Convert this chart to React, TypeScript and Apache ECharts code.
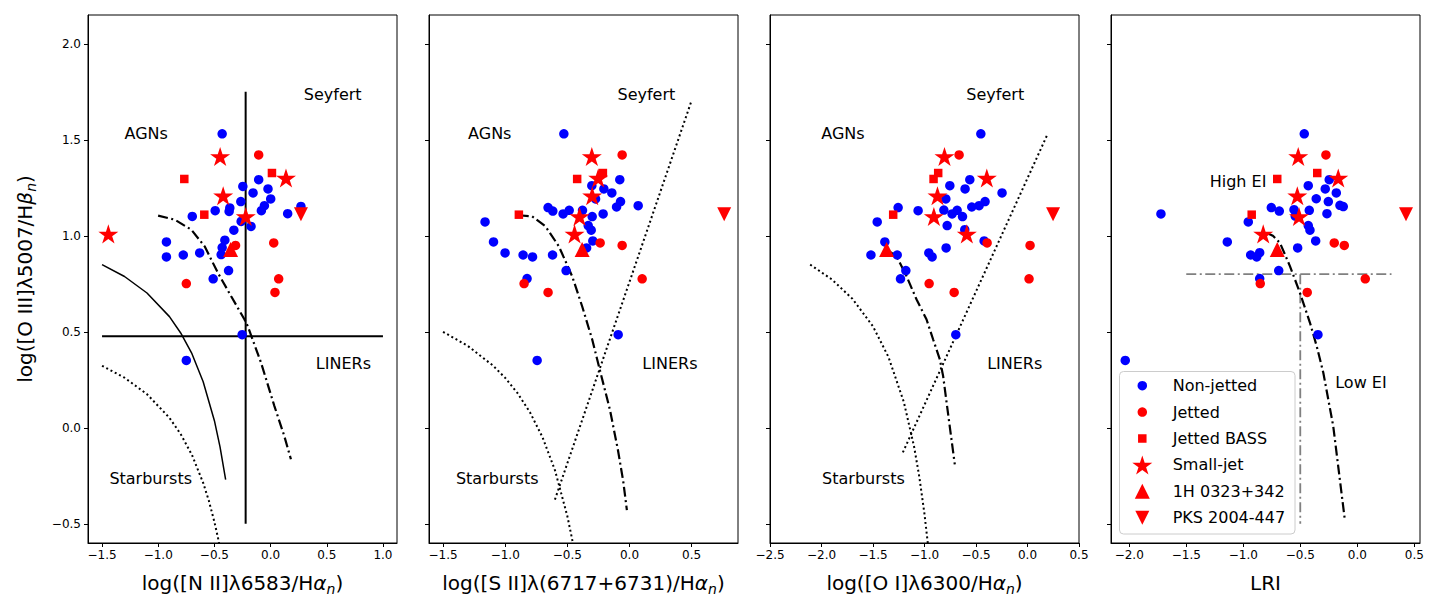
import React, { useEffect, useRef } from 'react';
import * as echarts from 'echarts';

const FONT = 'DejaVu Sans';
const BLUE = '#0000ff';
const RED = '#ff0000';

// ---------- ticks ----------
const yTicks = [-0.5, 0, 0.5, 1, 1.5, 2];
const xTicksNII = [-1.5, -1, -0.5, 0, 0.5, 1];
const xTicksSII = [-1.5, -1, -0.5, 0, 0.5];
const xTicksOI = [-2.5, -2, -1.5, -1, -0.5, 0, 0.5];
const xTicksLRI = [-2, -1.5, -1, -0.5, 0, 0.5];

// ---------- non-jetted (per panel [x, y]) ----------
const nonJettedNII = [[-0.431,1.531],[-0.247,1.257],[-0.106,1.292],[-0.156,1.223],[-0.023,1.244],[0.001,1.192],[-0.265,1.178],[-0.055,1.157],[-0.082,1.131],[-0.363,1.145],[-0.369,1.127],[-0.493,1.131],[-0.697,1.101],[0.152,1.115],[0.270,1.153],[-0.174,1.049],[-0.262,1.075],[-0.327,1.029],[-0.927,0.968],[-0.927,0.890],[-0.777,0.900],[-0.631,0.911],[-0.407,0.977],[-0.431,0.939],[-0.440,0.902],[-0.374,0.819],[-0.511,0.776],[-0.253,0.485],[-0.750,0.351]];
const nonJettedSII = [[-0.528,1.531],[-0.078,1.292],[-0.303,1.261],[-0.206,1.244],[-0.142,1.223],[-0.273,1.192],[-0.072,1.178],[-0.104,1.150],[0.070,1.157],[-0.655,1.147],[-0.617,1.129],[-0.485,1.133],[-0.534,1.114],[-0.378,1.133],[-0.300,1.100],[-0.212,1.114],[-0.332,1.053],[-0.308,1.029],[-0.295,0.973],[-0.345,0.937],[-1.162,1.072],[-1.094,0.968],[-1.001,0.911],[-0.856,0.900],[-0.780,0.890],[-0.619,0.900],[-0.510,0.819],[-0.824,0.777],[-0.091,0.485],[-0.743,0.351]];
const nonJettedOI = [[-0.453,1.531],[-0.560,1.292],[-0.754,1.261],[-0.606,1.244],[-0.247,1.223],[-0.793,1.192],[-0.412,1.178],[-0.470,1.157],[-0.541,1.150],[-1.256,1.147],[-1.062,1.131],[-0.812,1.134],[-0.732,1.114],[-0.683,1.133],[-0.631,1.100],[-1.459,1.072],[-0.780,1.053],[-0.609,1.032],[-0.421,0.973],[-1.385,0.968],[-0.790,0.937],[-1.520,0.900],[-1.265,0.900],[-0.958,0.911],[-0.926,0.890],[-1.181,0.819],[-1.233,0.776],[-0.696,0.485]];
const nonJettedLRI = [[-0.465,1.531],[-0.430,1.261],[-0.246,1.292],[-0.281,1.244],[-0.184,1.223],[-0.360,1.193],[-0.254,1.178],[-0.152,1.159],[-0.123,1.152],[-0.421,1.133],[-0.555,1.136],[-0.754,1.147],[-0.684,1.129],[-0.266,1.115],[-0.544,1.103],[-0.956,1.072],[-0.430,1.053],[-0.415,1.029],[-0.365,0.973],[-0.523,0.937],[-1.140,0.968],[-0.935,0.900],[-0.882,0.890],[-0.856,0.912],[-0.689,0.819],[-0.856,0.777],[-0.345,0.485],[-2.035,0.351],[-1.722,1.114]];

// ---------- jetted ----------
const jettedY = [1.421, 0.963, 0.950, 0.776, 0.705, 0.751];
const jettedNII = [-0.106, 0.028, -0.312, 0.072, 0.039, -0.750];
const jettedSII = [-0.059, -0.236, -0.059, 0.102, -0.655, -0.848];
const jettedOI = [-0.664, -0.392, 0.025, 0.015, -0.712, -0.955];
const jettedLRI = [-0.275, -0.202, -0.114, 0.070, -0.439, -0.851];

// ---------- jetted BASS ----------
const bassY = [1.296, 1.327, 1.110];
const bassNII = [-0.768, 0.012, -0.590];
const bassSII = [-0.421, -0.214, -0.890];
const bassOI = [-0.912, -0.867, -1.304];
const bassLRI = [-0.702, -0.351, -0.926];

// ---------- small-jet ----------
const smallY = [1.413, 1.301, 1.209, 1.101, 1.010];
const smallNII = [-0.449, 0.137, -0.422, -0.221, -1.444];
const smallSII = [-0.303, -0.252, -0.300, -0.402, -0.442];
const smallOI = [-0.806, -0.395, -0.874, -0.909, -0.589];
const smallLRI = [-0.518, -0.167, -0.526, -0.511, -0.825];

// ---------- single objects ----------
const h0323Y = [0.928];
const h0323NII = [-0.356];
const h0323SII = [-0.381];
const h0323OI = [-1.368];
const h0323LRI = [-0.702];

const pksY = [1.112];
const pksNII = [0.270];
const pksSII = [0.762];
const pksOI = [0.248];
const pksLRI = [0.427];

// ---------- demarcation lines ----------
const niiHoriz = [[-1.5, 0.477], [1.0, 0.477]];
const niiVert = [[-0.222, -0.5], [-0.222, 1.75]];
const niiSolid = [[-1.5,0.850],[-1.3,0.788],[-1.1,0.702],[-0.9,0.579],[-0.8,0.494],[-0.7,0.386],[-0.6,0.240],[-0.5,0.037],[-0.45,-0.099],[-0.40,-0.270]];
const niiDotted = [[-1.5,0.323],[-1.3,0.261],[-1.1,0.175],[-0.9,0.052],[-0.8,-0.033],[-0.7,-0.141],[-0.6,-0.287],[-0.55,-0.379],[-0.5,-0.490],[-0.47,-0.568],[-0.45,-0.626]];
const niiDashDot = [[-1.001,1.105],[-0.853,1.084],[-0.706,1.032],[-0.587,0.945],[-0.469,0.807],[-0.351,0.685],[-0.232,0.564],[-0.203,0.529],[-0.085,0.339],[0.034,0.113],[0.122,-0.043],[0.181,-0.164]];

const siiDottedCurve = [[-1.5,0.500],[-1.3,0.426],[-1.1,0.325],[-1.0,0.260],[-0.9,0.180],[-0.8,0.080],[-0.7,-0.049],[-0.6,-0.220],[-0.5,-0.460],[-0.46,-0.585],[-0.45,-0.620]];
const siiDottedLine = [[-0.6,-0.374],[0.5,1.705]];
const siiDashDot = [[-0.891,1.107],[-0.783,1.101],[-0.676,1.049],[-0.568,0.945],[-0.461,0.789],[-0.381,0.633],[-0.300,0.460],[-0.233,0.287],[-0.158,0.096],[-0.094,-0.112],[-0.050,-0.280],[-0.021,-0.429]];

const oiDottedCurve = [[-2.11,0.850],[-1.9,0.773],[-1.7,0.672],[-1.5,0.528],[-1.35,0.369],[-1.2,0.133],[-1.1,-0.101],[-1.05,-0.257],[-1.0,-0.450],[-0.97,-0.591],[-0.96,-0.643]];
const oiDottedLine = [[-1.21,-0.128],[0.19,1.524]];
const oiDashDot = [[-1.368,0.928],[-1.271,0.893],[-1.174,0.789],[-1.077,0.668],[-0.980,0.564],[-0.916,0.460],[-0.851,0.356],[-0.819,0.269],[-0.764,0.044],[-0.706,-0.190]];

const lriDashDot = [[-0.795,1.015],[-0.740,1.000],[-0.678,0.963],[-0.590,0.841],[-0.503,0.703],[-0.415,0.547],[-0.356,0.425],[-0.298,0.287],[-0.211,0.009],[-0.108,-0.485]];
const lriGreyH = [[-1.5, 0.8], [0.3, 0.8]];
const lriGreyV = [[-0.5, 0.8], [-0.5, -0.5]];

// ---------- region labels (data coordinates) ----------
const niiLabels = [{ name: 'AGNs', value: [-1.107, 1.531] }, { name: 'Seyfert', value: [0.553, 1.734] }, { name: 'LINERs', value: [0.648, 0.335] }, { name: 'Starbursts', value: [-1.067, -0.263] }];
const siiLabels = [{ name: 'AGNs', value: [-1.124, 1.531] }, { name: 'Seyfert', value: [0.136, 1.734] }, { name: 'LINERs', value: [0.325, 0.335] }, { name: 'Starbursts', value: [-1.064, -0.263] }];
const oiLabels = [{ name: 'AGNs', value: [-1.792, 1.531] }, { name: 'Seyfert', value: [-0.313, 1.734] }, { name: 'LINERs', value: [-0.124, 0.335] }, { name: 'Starbursts', value: [-1.593, -0.263] }];
const lriLabels = [{ name: 'High EI', value: [-1.046, 1.282] }, { name: 'Low EI', value: [0.032, 0.237] }];

const STAR = 'path://M100,0L122.5,69.1L195.1,69.1L136.3,111.8L158.8,180.9L100,138.2L41.2,180.9L63.7,111.8L4.9,69.1L77.5,69.1Z';
const TRI_DOWN = 'path://M0,0L2,0L1,2Z';

const zip = (xs: number[], ys: number[]) => xs.map((x, i) => [x, ys[i]]);

const fmt = (v: number) => {
  const s = Math.abs(v).toFixed(1);
  return v < -1e-9 ? '\u2212' + s : s;
};

const rich = {
  a: { fontSize: 20, fontFamily: FONT, color: '#000', lineHeight: 26 },
  i: { fontSize: 20, fontFamily: FONT, color: '#000', lineHeight: 26, fontStyle: 'italic' },
  s: { fontSize: 14, fontFamily: FONT, color: '#000', lineHeight: 16, fontStyle: 'italic', verticalAlign: 'bottom' },
};

const panels = [
  { left: 88, min: -1.625, max: 1.125, ticks: xTicksNII, name: '{a|log([N II]λ6583/H}{i|α}{s|n}{a|)}' },
  { left: 429, min: -1.613, max: 0.873, ticks: xTicksSII, name: '{a|log([S II]λ(6717+6731)/H}{i|α}{s|n}{a|)}' },
  { left: 770, min: -2.5, max: 0.5, ticks: xTicksOI, name: '{a|log([O I]λ6300/H}{i|α}{s|n}{a|)}' },
  { left: 1111, min: -2.16, max: 0.55, ticks: xTicksLRI, name: '{a|LRI}' },
];

const classes = [
  { name: 'Non-jetted', color: BLUE, symbol: 'circle', size: 9.5, data: [nonJettedNII, nonJettedSII, nonJettedOI, nonJettedLRI] },
  { name: 'Jetted', color: RED, symbol: 'circle', size: 9.5, data: [zip(jettedNII, jettedY), zip(jettedSII, jettedY), zip(jettedOI, jettedY), zip(jettedLRI, jettedY)] },
  { name: 'Jetted BASS', color: RED, symbol: 'rect', size: 8.5, data: [zip(bassNII, bassY), zip(bassSII, bassY), zip(bassOI, bassY), zip(bassLRI, bassY)] },
  { name: 'Small-jet', color: RED, symbol: STAR, size: 20, data: [zip(smallNII, smallY), zip(smallSII, smallY), zip(smallOI, smallY), zip(smallLRI, smallY)] },
  { name: '1H 0323+342', color: RED, symbol: 'triangle', size: 15, data: [zip(h0323NII, h0323Y), zip(h0323SII, h0323Y), zip(h0323OI, h0323Y), zip(h0323LRI, h0323Y)] },
  { name: 'PKS 2004-447', color: RED, symbol: TRI_DOWN, size: 14, data: [zip(pksNII, pksY), zip(pksSII, pksY), zip(pksOI, pksY), zip(pksLRI, pksY)] },
];

const DASHDOT = [10, 3.5, 2, 3.5];
const DOT = [2, 2.8];

const lineSets = [
  [
    { data: niiHoriz, color: '#000', width: 2, type: 'solid' },
    { data: niiVert, color: '#000', width: 2, type: 'solid' },
    { data: niiSolid, color: '#000', width: 1.5, type: 'solid' },
    { data: niiDotted, color: '#000', width: 2, type: DOT },
    { data: niiDashDot, color: '#000', width: 2.2, type: DASHDOT },
  ],
  [
    { data: siiDottedCurve, color: '#000', width: 2, type: DOT },
    { data: siiDottedLine, color: '#000', width: 2, type: DOT },
    { data: siiDashDot, color: '#000', width: 2.2, type: DASHDOT },
  ],
  [
    { data: oiDottedCurve, color: '#000', width: 2, type: DOT },
    { data: oiDottedLine, color: '#000', width: 2, type: DOT },
    { data: oiDashDot, color: '#000', width: 2.2, type: DASHDOT },
  ],
  [
    { data: lriGreyH, color: '#808080', width: 1.8, type: DASHDOT },
    { data: lriGreyV, color: '#808080', width: 1.8, type: DASHDOT },
    { data: lriDashDot, color: '#000', width: 2.2, type: DASHDOT },
  ],
];

const labelSets = [niiLabels, siiLabels, oiLabels, lriLabels];

function buildOption() {
  const grid = panels.map((p) => ({
    left: p.left, top: 15, width: 309, height: 528,
    show: true, borderColor: '#000', borderWidth: 1, containLabel: false,
  }));
  const xAxis = panels.map((p, i) => ({
    type: 'value', gridIndex: i, min: p.min, max: p.max,
    axisLine: { show: true, onZero: false, lineStyle: { color: '#000', width: 1 } },
    axisTick: { show: true, length: 4, customValues: p.ticks, lineStyle: { color: '#000' } },
    axisLabel: { show: true, customValues: p.ticks, formatter: fmt, fontSize: 12, fontFamily: FONT, color: '#000', margin: 6 },
    splitLine: { show: false },
    name: p.name, nameLocation: 'middle', nameGap: 27,
    nameTextStyle: { rich },
  }));
  const yAxis = panels.map((p, i) => ({
    type: 'value', gridIndex: i, min: -0.6, max: 2.15,
    axisLine: { show: true, onZero: false, lineStyle: { color: '#000', width: 1 } },
    axisTick: { show: true, length: 4, customValues: yTicks, lineStyle: { color: '#000' } },
    axisLabel: { show: i === 0, customValues: yTicks, formatter: fmt, fontSize: 12, fontFamily: FONT, color: '#000', margin: 7 },
    splitLine: { show: false },
    ...(i === 0
      ? { name: '{a|log([O III]λ5007/H}{i|β}{s|n}{a|)}', nameLocation: 'middle', nameGap: 50, nameTextStyle: { rich } }
      : {}),
  }));

  const series: any[] = [];
  lineSets.forEach((set, i) => {
    set.forEach((l) => {
      series.push({
        type: 'line', xAxisIndex: i, yAxisIndex: i, data: l.data,
        showSymbol: false, symbol: 'none', silent: true, z: 1,
        lineStyle: { color: l.color, width: l.width, type: l.type },
      });
    });
  });
  classes.forEach((c) => {
    c.data.forEach((d, i) => {
      series.push({
        type: 'scatter', name: c.name, xAxisIndex: i, yAxisIndex: i, data: d,
        symbol: c.symbol, symbolSize: c.size, symbolKeepAspect: true,
        itemStyle: { color: c.color, opacity: 1 }, z: 2, silent: true,
      });
    });
  });
  labelSets.forEach((labels, i) => {
    series.push({
      type: 'scatter', xAxisIndex: i, yAxisIndex: i, data: labels,
      symbolSize: 1, itemStyle: { color: 'rgba(0,0,0,0)' }, silent: true, z: 3,
      label: { show: true, position: 'inside', formatter: '{b}', fontSize: 16, fontFamily: FONT, color: '#000', opacity: 1 },
    });
  });

  const rowTop = 385.7;
  const rowStep = 26.4;
  const legend = classes.map((c, k) => ({
    data: [c.name], left: 1142.3 - c.size / 2, top: rowTop + k * rowStep - 10,
    itemWidth: c.size, itemHeight: c.size, padding: 0, selectedMode: false, z: 20,
    textStyle: { fontSize: 16, fontFamily: FONT, color: '#000', lineHeight: 20, padding: [0, 0, 0, 25.4 - c.size / 2] },
  }));

  return {
    animation: false,
    backgroundColor: '#fff',
    grid, xAxis, yAxis, series, legend,
    graphic: [
      {
        type: 'rect', z: 10,
        shape: { x: 1119.5, y: 371.5, width: 175.5, height: 162.5, r: 4 },
        style: { fill: 'rgba(255,255,255,0.8)', stroke: '#cccccc', lineWidth: 1 },
      },
    ],
  };
}

export default function App() {
  const ref = useRef<HTMLDivElement>(null);
  useEffect(() => {
    document.body.style.margin = '0';
    if (!ref.current) return;
    const chart = echarts.init(ref.current, undefined, { renderer: 'svg' });
    chart.setOption(buildOption() as any);
    return () => chart.dispose();
  }, []);
  return <div ref={ref} style={{ width: 1440, height: 611 }} />;
}
